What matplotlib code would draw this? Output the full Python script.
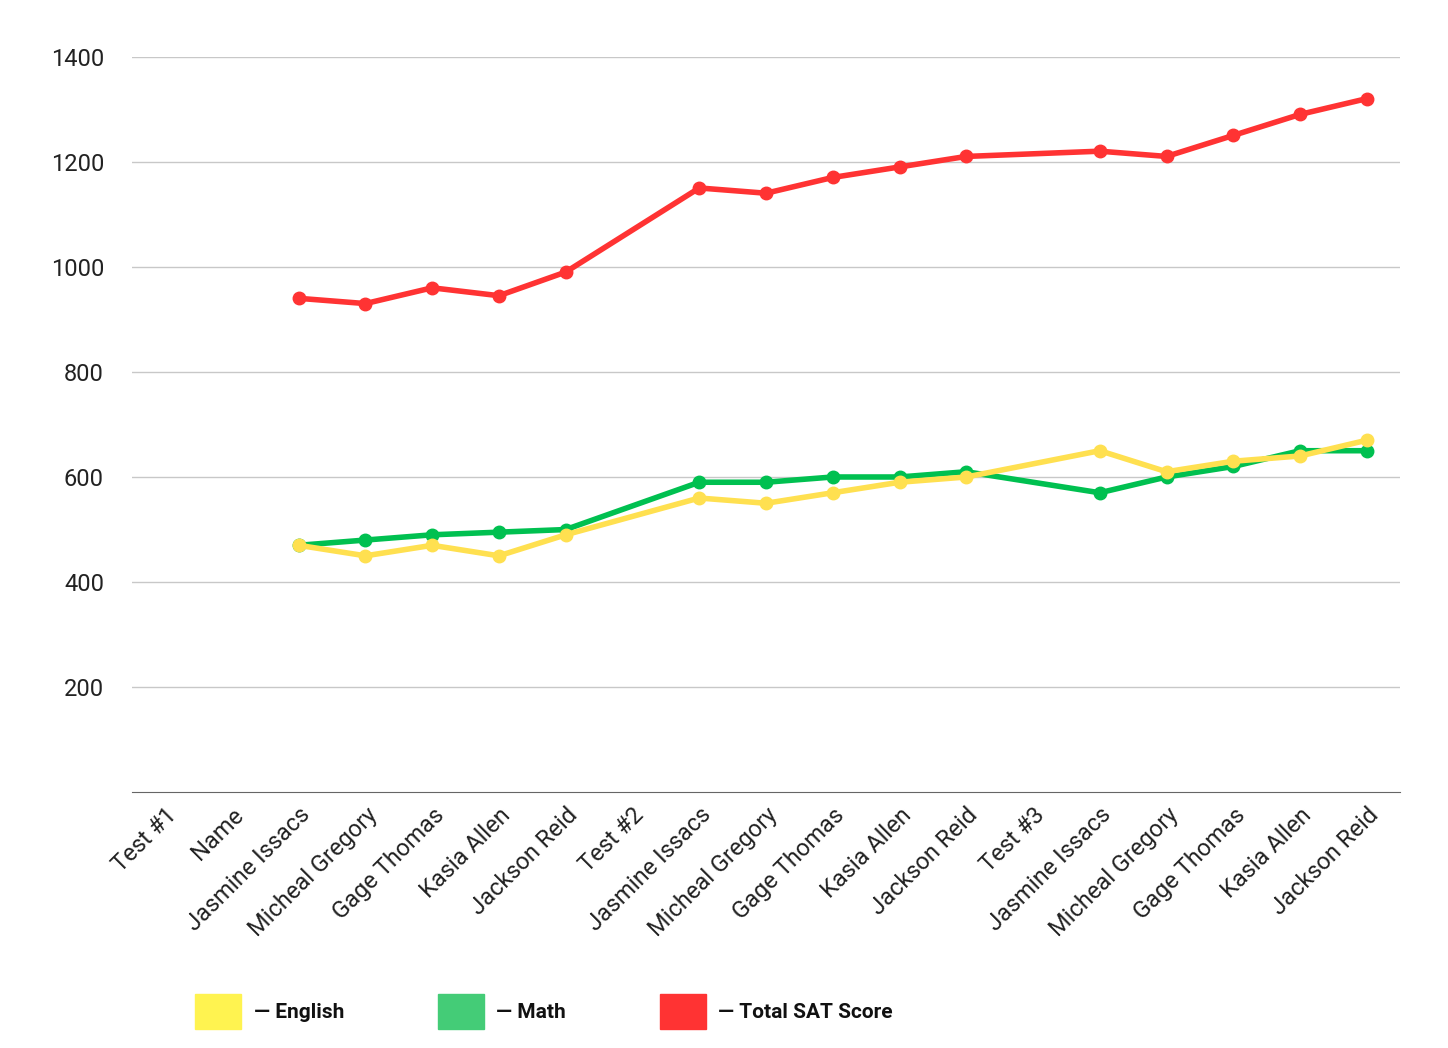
import matplotlib.pyplot as plt
from matplotlib.patches import Patch

plt.rcParams['font.family'] = ['Roboto', 'DejaVu Sans']

labels = ['Test #1', 'Name', 'Jasmine Issacs', 'Micheal Gregory', 'Gage Thomas', 'Kasia Allen', 'Jackson Reid',
          'Test #2', 'Jasmine Issacs', 'Micheal Gregory', 'Gage Thomas', 'Kasia Allen', 'Jackson Reid',
          'Test #3', 'Jasmine Issacs', 'Micheal Gregory', 'Gage Thomas', 'Kasia Allen', 'Jackson Reid']

N = None
english = [N, N, 470, 450, 470, 450, 490, N, 560, 550, 570, 590, 600, N, 650, 610, 630, 640, 670]
math = [N, N, 470, 480, 490, 495, 500, N, 590, 590, 600, 600, 610, N, 570, 600, 620, 650, 650]
total = [N, N, 940, 930, 960, 945, 990, N, 1150, 1140, 1170, 1190, 1210, N, 1220, 1210, 1250, 1290, 1320]

fig = plt.figure(figsize=(14.48, 10.48), dpi=100)
ax = fig.add_axes([0.091, 0.244, 0.876, 0.702])

series = [(math, '#00c050'), (total, '#ff3333'), (english, '#ffe050')]
for vals, col in series:
    xs = [i for i, v in enumerate(vals) if v is not None]
    ys = [v for v in vals if v is not None]
    ax.plot(xs, ys, color=col, lw=4, marker='o', ms=9, zorder=3)

ax.set_xlim(-0.5, len(labels) - 0.5)
ax.set_ylim(0, 1400)
ax.set_yticks(range(200, 1401, 200))
ax.set_xticks(range(len(labels)))
ax.set_xticklabels(labels, rotation=45, ha='right', rotation_mode='anchor', fontsize=17, color='#222222')
ax.tick_params(axis='y', labelsize=17, labelcolor='#222222', length=0, pad=20)
ax.tick_params(axis='x', length=0, pad=8)
ax.grid(axis='y', color='#c8c8c8', lw=1)
ax.set_axisbelow(True)
for s in ['top', 'right', 'left']:
    ax.spines[s].set_visible(False)
ax.spines['bottom'].set_color('#666666')

handles = [Patch(color='#fff350'), Patch(color='#44cc77'), Patch(color='#ff3333')]
leg = fig.legend(handles, ['— English', '— Math', '— Total SAT Score'], loc='lower left',
                 bbox_to_anchor=(0.122, 0.0), ncol=3, frameon=False, handlelength=2.2, handleheight=2.2,
                 handletextpad=0.6, columnspacing=4.5, prop={'weight': 'bold', 'size': 15})
for t in leg.get_texts():
    t.set_color('#111111')

fig.savefig('out.png', dpi=100, facecolor='white')
